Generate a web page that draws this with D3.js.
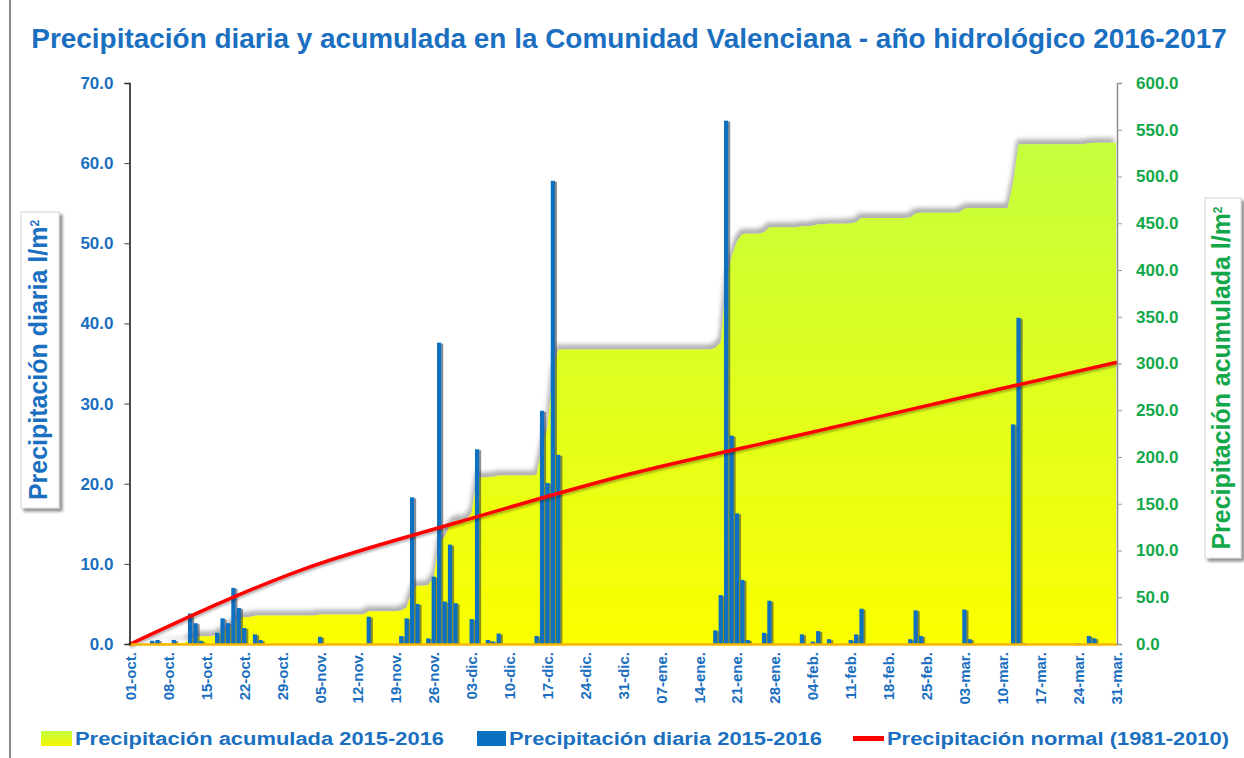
<!DOCTYPE html>
<html>
<head>
<meta charset="utf-8">
<script src="https://cdn.jsdelivr.net/npm/d3@7/dist/d3.min.js"></script>
<style>
  body { margin: 0; background: #fff; }
  svg { display: block; font-family: "Liberation Sans", Arial, sans-serif; }
</style>
</head>
<body>
<svg id="chart" width="1244" height="758"></svg>
<script>
// etiquetas del eje x (cada 7 dias)
const etiquetas = ['01-oct.', '08-oct.', '15-oct.', '22-oct.', '29-oct.', '05-nov.', '12-nov.', '19-nov.', '26-nov.',
  '03-dic.', '10-dic.', '17-dic.', '24-dic.', '31-dic.', '07-ene.', '14-ene.', '21-ene.', '28-ene.',
  '04-feb.', '11-feb.', '18-feb.', '25-feb.', '03-mar.', '10-mar.', '17-mar.', '24-mar.', '31-mar.'];

// precipitacion diaria (l/m2), un valor por dia, 01-oct a 31-mar
const diaria = [
  // oct
  0, 0, 0, 0, 0.4, 0.5, 0, 0, 0.5, 0, 0, 3.8, 2.6, 0.4, 0, 0, 1.4, 3.2, 2.6, 7.0, 4.5, 2.0, 0, 1.2, 0.5, 0, 0, 0, 0, 0, 0,
  // nov
  0, 0, 0, 0, 0.9, 0, 0, 0, 0, 0, 0, 0, 0, 3.4, 0, 0, 0, 0, 0, 1.0, 3.2, 18.3, 5.0, 0, 0.7, 8.4, 37.6, 5.3, 12.4, 5.1,
  // dic
  0, 0, 3.1, 24.3, 0, 0.5, 0.3, 1.3, 0, 0, 0, 0, 0, 0, 1.0, 29.1, 20.1, 57.8, 23.6, 0, 0, 0, 0, 0, 0, 0, 0, 0, 0, 0, 0,
  // ene
  0, 0, 0, 0, 0, 0, 0, 0, 0, 0, 0, 0, 0, 0, 0, 0, 1.7, 6.1, 65.3, 26.0, 16.3, 8.0, 0.5, 0, 0, 1.4, 5.4, 0, 0, 0, 0,
  // feb
  0, 1.2, 0, 0.3, 1.6, 0, 0.6, 0, 0, 0, 0.5, 1.2, 4.4, 0, 0, 0, 0, 0, 0, 0, 0, 0.6, 4.2, 1.0, 0, 0, 0, 0, 0,
  // mar
  0, 0, 4.3, 0.6, 0, 0, 0, 0, 0, 0, 0, 27.4, 40.7, 0.1, 0, 0, 0, 0, 0, 0, 0, 0, 0, 0.1, 0, 1.0, 0.7, 0, 0, 0, 0
];

const acumulada = [
  // oct
  0, 0, 0, 0, 0.4, 0.9, 0.9, 0.9, 1.4, 1.4, 1.4, 5.2, 7.8, 8.2, 8.2, 8.2, 9.6, 12.8, 15.4, 22.4, 26.9, 28.9, 28.9, 30.1, 30.6,
  30.6, 30.6, 30.6, 30.6, 30.6, 30.6,
  // nov
  30.6, 30.6, 30.6, 30.6, 31.5, 31.5, 31.5, 31.5, 31.5, 31.5, 31.5, 31.5, 31.5, 34.9, 34.9, 34.9, 34.9, 34.9, 34.9, 35.9,
  39.1, 57.4, 62.4, 62.4, 63.1, 71.5, 109.1, 114.4, 126.8, 131.9,
  // dic
  133, 133, 140, 178, 178, 178.5, 178.8, 180.1, 180.1, 180.1, 180.1, 180.1, 180.1, 180.1, 181.1, 211, 232, 290, 315, 315,
  315, 315, 315, 315, 315, 315, 315, 315, 315, 315, 315,
  // ene
  315, 315, 315, 315, 315, 315, 315, 315, 315, 315, 315, 315, 315, 315, 315, 315, 316.7, 322.8, 388.1, 414.1,
  430.4, 438.4, 438.9, 438.9, 438.9, 440.3, 445.7, 445.7, 445.7, 445.7, 445.7,
  // feb
  445.7, 446.9, 446.9, 447.2, 448.8, 448.8, 449.4, 449.4, 449.4, 449.4, 449.9, 451.1, 455.5, 455.5, 455.5, 455.5, 455.5,
  455.5, 455.5, 455.5, 455.5, 456.1, 460.3, 461.3, 461.3, 461.3, 461.3, 461.3, 461.3,
  // mar
  461.3, 461.3, 465.6, 466.2, 466.2, 466.2, 466.2, 466.2, 466.2, 466.2, 466.2, 493.6, 534.3, 534.4, 534.4, 534.4, 534.4,
  534.4, 534.4, 534.4, 534.4, 534.4, 534.4, 534.5, 534.5, 535.5, 536.2, 536.2, 536.2, 536.2, 536.2
];

// precipitacion normal acumulada (1981-2010), al inicio de cada mes y al final
const normalDia = [0, 31, 61, 92, 123, 152, 182];
const normalValor = [0, 78, 131, 181.5, 222.7, 261.5, 301];

const titulo = 'Precipitación diaria y acumulada en la Comunidad Valenciana - año hidrológico 2016-2017';
const leyenda = ['Precipitación acumulada 2015-2016', 'Precipitación diaria 2015-2016', 'Precipitación normal (1981-2010)'];

const azul = '#1a6fc0';
const verde = '#12a84a';

const svg = d3.select('#chart');
const defs = svg.append('defs');

// degradado del area
const grad = defs.append('linearGradient')
  .attr('id', 'gradArea')
  .attr('gradientUnits', 'userSpaceOnUse')
  .attr('x1', 0).attr('x2', 0)
  .attr('y1', 140).attr('y2', 644);
grad.append('stop').attr('offset', '0%').attr('stop-color', '#c4ff3c');
grad.append('stop').attr('offset', '100%').attr('stop-color', '#fbff00');

const gradLey = defs.append('linearGradient')
  .attr('id', 'gradLey').attr('x1', 0).attr('x2', 0).attr('y1', 0).attr('y2', 1);
gradLey.append('stop').attr('offset', '0%').attr('stop-color', '#c4ff3c');
gradLey.append('stop').attr('offset', '100%').attr('stop-color', '#f5f500');

function sombra(id, dx, dy, sd, op, color) {
  defs.append('filter').attr('id', id)
    .attr('x', '-20%').attr('y', '-20%').attr('width', '140%').attr('height', '140%')
    .append('feDropShadow')
    .attr('dx', dx).attr('dy', dy).attr('stdDeviation', sd)
    .attr('flood-color', color || '#000').attr('flood-opacity', op);
}
sombra('sArea', -2, -5, 2, 0.45, '#555');
sombra('sBar', 2, 1, 0.7, 0.55, '#333');
sombra('sLine', 1, 2, 1, 0.3, '#000');
sombra('sCaja', 3, 3, 1.5, 0.45, '#000');

// marco izquierdo
svg.append('line')
  .attr('x1', 10).attr('x2', 10).attr('y1', 0).attr('y2', 758)
  .attr('stroke', '#8a8a8a').attr('stroke-width', 2);

// titulo
const tit = svg.append('text')
  .attr('x', 629).attr('y', 48)
  .attr('text-anchor', 'middle')
  .attr('font-weight', 'bold')
  .attr('fill', azul)
  .style('font-size', '24px')
  .text(titulo);
const tw = tit.node().getComputedTextLength();
tit.style('font-size', `${24 * 1196 / tw}px`);

// escalas
const x = d3.scaleLinear().domain([0, 182]).range([130.5, 1116]);
const yIzq = d3.scaleLinear().domain([0, 70]).range([644, 83]);
const yDer = d3.scaleLinear().domain([0, 600]).range([644, 83]);

// area acumulada
const area = d3.area()
  .x((d, i) => x(i))
  .y0(yDer(0))
  .y1(d => yDer(d));
svg.append('path')
  .datum(acumulada)
  .attr('d', area)
  .attr('fill', 'url(#gradArea)')
  .attr('filter', 'url(#sArea)');

// barras diarias
const anchoBarra = 4.2;
svg.append('g')
  .attr('filter', 'url(#sBar)')
  .selectAll('rect')
  .data(diaria.map((v, i) => ({ i, v })).filter(d => d.v > 0))
  .enter()
  .append('rect')
  .attr('x', d => x(d.i) - anchoBarra / 2)
  .attr('y', d => yIzq(d.v))
  .attr('width', anchoBarra)
  .attr('height', d => yIzq(0) - yIzq(d.v))
  .attr('fill', '#0a70c0');

// linea normal
const linea = d3.line()
  .x((d, i) => x(normalDia[i]))
  .y(d => yDer(d))
  .curve(d3.curveMonotoneX);
svg.append('path')
  .datum(normalValor)
  .attr('d', linea)
  .attr('fill', 'none')
  .attr('stroke', '#ff0000')
  .attr('stroke-width', 3.5)
  .attr('stroke-linecap', 'round')
  .attr('filter', 'url(#sLine)');

// linea base
svg.append('line')
  .attr('x1', 129).attr('x2', 1117).attr('y1', 644.5).attr('y2', 644.5)
  .attr('stroke', '#f7b500').attr('stroke-width', 2.5);

// eje izquierdo
const ejeIzq = svg.append('g')
  .attr('transform', 'translate(129.5,0)')
  .call(d3.axisLeft(yIzq).tickValues(d3.range(0, 71, 10)).tickFormat(d3.format('.1f')).tickSize(5).tickPadding(11));
ejeIzq.select('.domain').attr('stroke', '#111').attr('stroke-width', 1.5);
ejeIzq.selectAll('.tick line').attr('stroke', '#333');
ejeIzq.selectAll('.tick text')
  .attr('fill', azul).attr('font-weight', 'bold').attr('font-size', 17)
  .attr('font-family', '"Liberation Sans", Arial, sans-serif');

// eje derecho
const ejeDer = svg.append('g')
  .attr('transform', 'translate(1117,0)')
  .call(d3.axisRight(yDer).tickValues(d3.range(0, 601, 50)).tickFormat(d3.format('.1f')).tickSize(5).tickPadding(14));
ejeDer.select('.domain').attr('stroke', '#8c8c8c').attr('stroke-width', 1.5);
ejeDer.selectAll('.tick line').attr('stroke', '#999');
ejeDer.selectAll('.tick text')
  .attr('fill', verde).attr('font-weight', 'bold').attr('font-size', 17)
  .attr('font-family', '"Liberation Sans", Arial, sans-serif');

// eje x
const ejeX = svg.append('g')
  .attr('transform', 'translate(0,646)')
  .call(d3.axisBottom(x).tickValues(d3.range(0, 183, 7)).tickFormat((d, i) => etiquetas[i]).tickSize(0));
ejeX.select('.domain').remove();
ejeX.selectAll('.tick text')
  .attr('fill', azul).attr('font-weight', 'bold').attr('font-size', 15)
  .attr('font-family', '"Liberation Sans", Arial, sans-serif')
  .attr('text-anchor', 'end')
  .attr('transform', 'translate(5,6) rotate(-90)')
  .attr('x', 0).attr('y', 0).attr('dy', 0);

// titulos de ejes con caja
function tituloEje(cx, cy, w, h, texto, color, largo) {
  svg.append('rect')
    .attr('x', cx - w / 2).attr('y', cy - h / 2)
    .attr('width', w).attr('height', h)
    .attr('fill', '#fff').attr('stroke', '#d4d4d4')
    .attr('filter', 'url(#sCaja)');
  const t = svg.append('text')
    .attr('transform', `translate(${cx + 7},${cy}) rotate(-90)`)
    .attr('text-anchor', 'middle')
    .attr('font-weight', 'bold')
    .attr('font-size', 20)
    .attr('fill', color);
  t.append('tspan').text(texto);
  t.append('tspan').attr('dy', -8).attr('font-size', 12).text('2');
  const tl = t.node().getComputedTextLength();
  t.attr('font-size', 20 * largo / tl);
}
tituloEje(40, 360, 38, 296, 'Precipitación  diaria  l/m', azul, 282);
tituloEje(1223, 378, 36, 360, 'Precipitación  acumulada  l/m', verde, 345);

// leyenda
const ley = svg.append('g');
ley.append('rect').attr('x', 41).attr('y', 731).attr('width', 31).attr('height', 15).attr('fill', 'url(#gradLey)');
ley.append('rect').attr('x', 477).attr('y', 731).attr('width', 29).attr('height', 15).attr('fill', '#0a70c0');
ley.append('rect').attr('x', 853).attr('y', 736).attr('width', 31).attr('height', 5).attr('fill', '#ff0000');
const leyX = [75, 509, 887];
const leyW = [369, 313, 342];
leyenda.forEach((s, i) => {
  ley.append('text')
    .attr('x', leyX[i]).attr('y', 745)
    .attr('font-weight', 'bold')
    .attr('font-size', 18)
    .attr('fill', azul)
    .attr('textLength', leyW[i])
    .attr('lengthAdjust', 'spacingAndGlyphs')
    .text(s);
});
</script>
</body>
</html>
